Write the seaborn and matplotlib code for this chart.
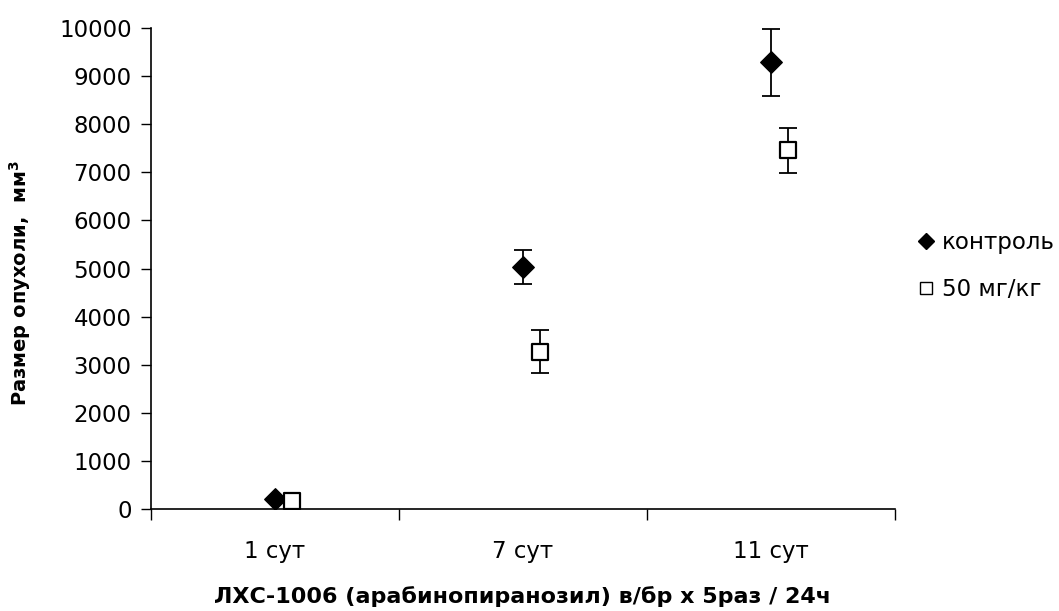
import numpy as np
import pandas as pd
import matplotlib
matplotlib.use("Agg")
import matplotlib.pyplot as plt
import seaborn as sns
from matplotlib.ticker import FixedLocator, NullFormatter
from matplotlib.lines import Line2D

# Data
days = ["1 сут", "7 сут", "11 сут"]
groups = ["контроль", "50 мг/кг"]
control_mean = [200, 5030, 9290]
control_err = [0, 355, 700]
dose_mean = [160, 3270, 7460]
dose_err = [0, 450, 470]

sns.set_theme(style="white")
plt.rcParams["font.family"] = ["DejaVu Sans"]
plt.rcParams.update({"text.color": "black", "axes.labelcolor": "black",
                     "xtick.color": "black", "ytick.color": "black"})

rows = []
for i, d in enumerate(days):
    rows.append({"day": d, "group": groups[0], "size": control_mean[i], "err": control_err[i]})
    rows.append({"day": d, "group": groups[1], "size": dose_mean[i], "err": dose_err[i]})
df = pd.DataFrame(rows)
df["pos"] = df["day"].map({d: i for i, d in enumerate(days)}).astype(float)
df.loc[df["group"] == groups[1], "pos"] += 0.07

fig = plt.figure(figsize=(10.59, 6.11), dpi=100)
ax = fig.add_axes([0.1426, 0.167, 0.845 - 0.1426, 0.954 - 0.167])

# error bars under the markers
for g in groups:
    sub = df[df["group"] == g]
    ax.errorbar(sub["pos"], sub["size"], yerr=sub["err"], fmt="none",
                ecolor="black", elinewidth=1.3, capsize=6.5, capthick=1.3, zorder=2)

sns.scatterplot(data=df[df["group"] == groups[0]], x="pos", y="size",
                marker="D", color="black", s=120, edgecolor="black",
                linewidth=1.0, ax=ax, zorder=3, legend=False)
sns.scatterplot(data=df[df["group"] == groups[1]], x="pos", y="size",
                marker="s", color="white", s=125, edgecolor="black",
                linewidth=1.6, ax=ax, zorder=3, legend=False)

ax.set_xlim(-0.5, 2.5)
ax.set_ylim(0, 10000)
ax.set_yticks(np.arange(0, 10001, 1000))
ax.tick_params(axis="y", labelsize=16.5, length=7, width=1, direction="out",
               color="black", labelcolor="black", left=True, pad=7)

ax.xaxis.set_major_locator(FixedLocator([-0.5, 0.5, 1.5, 2.5]))
ax.xaxis.set_major_formatter(NullFormatter())
ax.xaxis.set_minor_locator(FixedLocator([0, 1, 2]))
ax.set_xticklabels(days, minor=True)
ax.tick_params(axis="x", which="major", length=8, width=1, direction="out",
               color="black", bottom=True)
ax.tick_params(axis="x", which="minor", length=0, labelsize=16.5,
               labelcolor="black", pad=22)

for s in ["top", "right"]:
    ax.spines[s].set_visible(False)
for s in ["left", "bottom"]:
    ax.spines[s].set_color("black")
    ax.spines[s].set_linewidth(1.2)

ax.set_xlabel("ЛХС-1006 (арабинопиранозил) в/бр х 5раз / 24ч",
              fontsize=16, fontweight="bold", labelpad=17, color="black")
ax.set_ylabel("Размер опухоли,  мм$^\\mathbf{3}$", fontsize=14, fontweight="bold",
              color="black")
ax.yaxis.set_label_coords(-0.158, 0.47)

handles = [
    Line2D([], [], marker="D", color="none", markerfacecolor="black",
           markeredgecolor="black", markersize=8),
    Line2D([], [], marker="s", color="none", markerfacecolor="white",
           markeredgecolor="black", markersize=8, markeredgewidth=1),
]
fig.legend(handles, groups, loc="center left", bbox_to_anchor=(0.848, 0.565),
           frameon=False, fontsize=16.5, handlelength=0.6, handletextpad=0.4,
           labelspacing=1.05, labelcolor="black")

fig.savefig("out.png", dpi=100, facecolor="white")
